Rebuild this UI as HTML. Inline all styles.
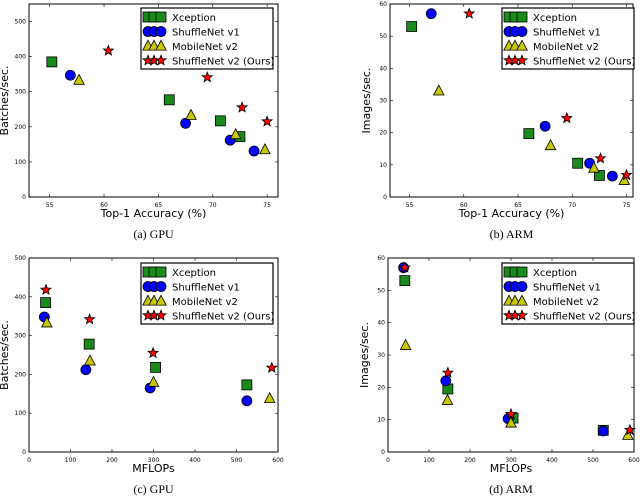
<!DOCTYPE html>
<html><head><meta charset="utf-8"><style>
body{margin:0;background:#fff;width:640px;height:497px;overflow:hidden}
svg text{font-family:"DejaVu Sans","Liberation Sans",sans-serif}
svg text.cap{font-family:"Liberation Serif",serif}
</style></head><body>
<svg id="s" width="640" height="497" xmlns="http://www.w3.org/2000/svg"></svg>
<script>
const seriesNames=["Xception","ShuffleNet v1","MobileNet v2","ShuffleNet v2 (Ours)"];
// (a) GPU accuracy
const aX=[[55.2,66,70.7,72.5],[56.9,67.5,71.6,73.8],[57.7,68,72.1,74.8],[60.4,69.5,72.7,75]];
const aY=[[385,277,217,172],[347,210,162,131],[333,233,178,135],[417,341,255,215]];
// (b) ARM accuracy
const bX=[[55.2,66,70.5,72.5],[57,67.5,71.6,73.7],[57.7,68,72,74.8],[60.5,69.5,72.6,75]];
const bY=[[53,19.7,10.5,6.7],[57,22,10.5,6.5],[33,16,9,5.2],[57,24.5,12,6.8]];
// (c) GPU MFLOPs
const cX=[[40,145,305,525],[37,137,292,525],[43,147,300,580],[41,146,299,585]];
const cY=[[385,278,218,173],[348,212,165,132],[333,235,180,138],[418,342,255,217]];
// (d) ARM MFLOPs
const dX=[[41,146,305,525],[38,141,293,525],[43,145,300,585],[41,146,300,590]];
const dY=[[53,19.5,10.5,6.7],[57,22,10.3,6.5],[33,16,9,5.2],[57,24.5,11.7,6.8]];
const accTicks=[55,60,65,70,75], flopTicks=[0,100,200,300,400,500,600];
const gpuTicks=[0,100,200,300,400,500], armTicks=[0,10,20,30,40,50,60];

const NS="http://www.w3.org/2000/svg", S=document.getElementById('s');
function el(t,a,p){const e=document.createElementNS(NS,t);for(const k in a)e.setAttribute(k,a[k]);(p||S).appendChild(e);return e;}
const colors=["#1a8a1a","#0000ff","#c8c800","#ff0000"];
function marker(g,k,x,y,sz){
  let e;
  if(k==0)e=el('rect',{x:x-sz,y:y-sz,width:2*sz,height:2*sz},g);
  else if(k==1)e=el('circle',{cx:x,cy:y,r:sz},g);
  else if(k==2)e=el('polygon',{points:`${x},${y-sz*1.1} ${x+sz},${y+sz*0.8} ${x-sz},${y+sz*0.8}`},g);
  else{let p=[];for(let i=0;i<10;i++){const r=i%2?sz*0.45:sz*1.05,a=-Math.PI/2+i*Math.PI/5;p.push((x+r*Math.cos(a)).toFixed(1)+','+(y+r*Math.sin(a)).toFixed(1));}e=el('polygon',{points:p.join(' ')},g);}
  e.setAttribute('fill',colors[k]);e.setAttribute('stroke','#000');e.setAttribute('stroke-width','0.8');
  return e;
}
const sizes=[5,5,5.2,5];
function chart(name,L,R,T,B,x0,x1,y0,y1,xs,ys,xt,yt,xlab,ylab,cap,legX,legY){
  const g=el('g',{});
  
  
  const sx=v=>L+(v-x0)/(x1-x0)*(R-L), sy=v=>B-(v-y0)/(y1-y0)*(B-T);
  const fr=el('rect',{x:L,y:T,width:R-L,height:B-T,fill:'none',stroke:'#000','stroke-width':1},g);
  
  xt.forEach(v=>{const x=sx(v);el('line',{x1:x,x2:x,y1:B,y2:B-3,stroke:'#000','stroke-width':0.6},g);el('line',{x1:x,x2:x,y1:T,y2:T+3,stroke:'#000','stroke-width':0.6},g);
    const t=el('text',{x:x,y:B+10,'font-size':6,'text-anchor':'middle'},g);t.textContent=v;});
  yt.forEach(v=>{const y=sy(v);el('line',{x1:L,x2:L+3,y1:y,y2:y,stroke:'#000','stroke-width':0.6},g);el('line',{x1:R,x2:R-3,y1:y,y2:y,stroke:'#000','stroke-width':0.6},g);
    const t=el('text',{x:L-3,y:y+2,'font-size':6,'text-anchor':'end'},g);t.textContent=v;});
  const xl=el('text',{x:(L+R)/2,y:B+20,'font-size':11,'text-anchor':'middle'},g);xl.textContent=xlab;
  
  const yx=L-(ylab[0]=='B'?21:20), yl=el('text',{x:yx,y:(T+B)/2,'font-size':11,'text-anchor':'middle',transform:`rotate(-90 ${yx} ${(T+B)/2})`},g);yl.textContent=ylab;
  
  const cp=el('text',{x:(L+R)/2,y:B+41,'font-size':12,'text-anchor':'middle','class':'cap'},g);cp.textContent=cap;
  
  for(let k=0;k<4;k++)for(let i=0;i<xs[k].length;i++){
    const m=marker(g,k,sx(xs[k][i]),sy(ys[k][i]),sizes[k]);
    
    
  }
  const lg=el('g',{},g);
  
  el('rect',{x:legX,y:legY,width:132,height:61,fill:'#fff',stroke:'#000','stroke-width':1.2},lg);
  for(let k=0;k<4;k++){const y=legY+9+k*14.5;
    const ent=el('g',{},lg);
    [7,13,20].forEach(dx=>marker(ent,k,legX+dx,y,sizes[k]));
    const t=el('text',{x:legX+31,y:y+4,'font-size':10},ent);t.textContent=seriesNames[k];}
}
chart('chart-a-gpu-accuracy',29,278,4,197,53.1,76,0,550,aX,aY,accTicks,gpuTicks,'Top-1 Accuracy (%)','Batches/sec.','(a) GPU',141,8);
chart('chart-b-arm-accuracy',390,633,4,197,53.2,75.6,0,60,bX,bY,accTicks,armTicks,'Top-1 Accuracy (%)','Images/sec.','(b) ARM',502,8);
chart('chart-c-gpu-mflops',29,278,258,452,0,600,0,500,cX,cY,flopTicks,gpuTicks,'MFLOPs','Batches/sec.','(c) GPU',141,263);
chart('chart-d-arm-mflops',388,634,258,452,0,600,0,60,dX,dY,flopTicks,armTicks,'MFLOPs','Images/sec.','(d) ARM',502,263);
</script>
</body></html>
